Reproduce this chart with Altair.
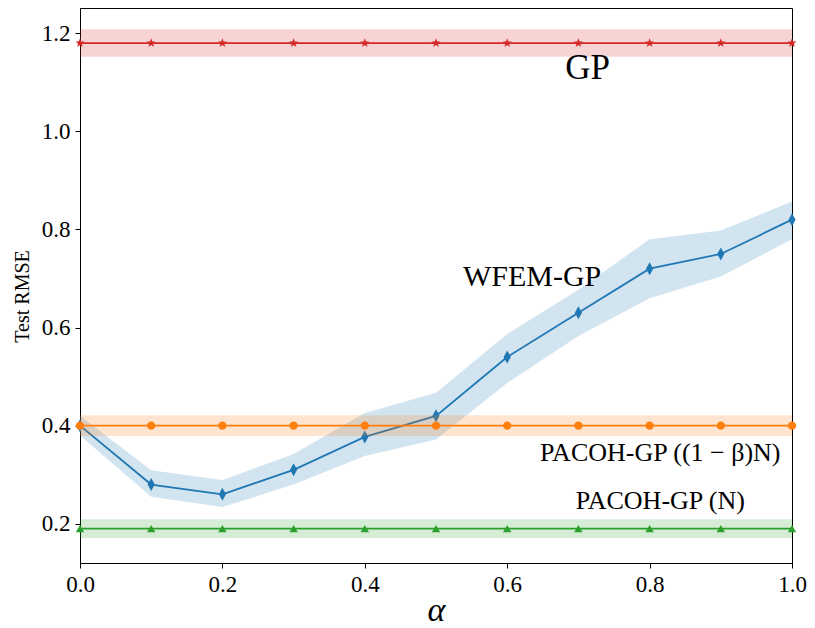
import math
import altair as alt
import pandas as pd

# ---- data ----
alpha_vals = [0.0, 0.1, 0.2, 0.3, 0.4, 0.5, 0.6, 0.7, 0.8, 0.9, 1.0]

wfem_mean = [0.40, 0.28, 0.26, 0.31, 0.377, 0.42, 0.54, 0.63, 0.72, 0.75, 0.82]
wfem_lower = [0.38, 0.255, 0.234, 0.28, 0.338, 0.372, 0.487, 0.583, 0.66, 0.704, 0.78]
wfem_upper = [0.42, 0.309, 0.289, 0.342, 0.426, 0.467, 0.587, 0.677, 0.78, 0.798, 0.857]

pacoh_beta_mean = [0.40] * 11
pacoh_beta_lower = [0.379] * 11
pacoh_beta_upper = [0.421] * 11

pacoh_n_mean = [0.19] * 11
pacoh_n_lower = [0.171] * 11
pacoh_n_upper = [0.209] * 11

gp_mean = [1.18] * 11
gp_lower = [1.152] * 11
gp_upper = [1.208] * 11

label_texts = ["GP", "WFEM-GP", "PACOH-GP ((1 − β)N)", "PACOH-GP (N)"]
label_x = [0.713, 0.635, 0.815, 0.815]
label_y = [1.129, 0.703, 0.345, 0.247]
label_sizes = [35, 30, 26, 26]

x_ticks = [0.0, 0.2, 0.4, 0.6, 0.8, 1.0]
y_ticks = [0.2, 0.4, 0.6, 0.8, 1.0, 1.2]

FONT = "Liberation Serif"

# marker shapes
pts = []
for k in range(10):
    r = 1.0 if k % 2 == 0 else 0.42
    a = -math.pi / 2 + k * math.pi / 5
    pts.append(f"{r*math.cos(a):.3f},{r*math.sin(a):.3f}")
STAR = "M" + "L".join(pts) + "Z"
THIN_DIAMOND = "M0,-1L0.55,0L0,1L-0.55,0Z"

x_scale = alt.Scale(domain=[0, 1], nice=False, zero=False)
y_scale = alt.Scale(domain=[0.12, 1.2515], nice=False, zero=False)


def series(mean, lower, upper, color, shape, size):
    df = pd.DataFrame({"alpha": alpha_vals, "mean": mean, "lower": lower, "upper": upper})
    base = alt.Chart(df)
    band = base.mark_area(color=color, opacity=0.2).encode(
        x=alt.X("alpha:Q", scale=x_scale),
        y=alt.Y("lower:Q", scale=y_scale),
        y2="upper:Q",
    )
    line = base.mark_line(color=color, strokeWidth=1.8).encode(
        x=alt.X("alpha:Q", scale=x_scale),
        y=alt.Y("mean:Q", scale=y_scale),
    )
    pt = base.mark_point(color=color, filled=True, opacity=1, shape=shape, size=size).encode(
        x=alt.X("alpha:Q", scale=x_scale),
        y=alt.Y("mean:Q", scale=y_scale),
    )
    return [band, line, pt]


layers = []
layers += series(wfem_mean, wfem_lower, wfem_upper, "#1f77b4", THIN_DIAMOND, 170)
layers += series(pacoh_beta_mean, pacoh_beta_lower, pacoh_beta_upper, "#ff7f0e", "circle", 70)
layers += series(pacoh_n_mean, pacoh_n_lower, pacoh_n_upper, "#2ca02c", "triangle-up", 70)
layers += series(gp_mean, gp_lower, gp_upper, "#d62728", STAR, 90)

labels_df = pd.DataFrame({"t": label_texts, "x": label_x, "y": label_y, "s": label_sizes})
for i in range(len(label_texts)):
    layers.append(
        alt.Chart(labels_df.iloc[[i]]).mark_text(
            font=FONT, fontSize=label_sizes[i], color="black", align="center", baseline="middle"
        ).encode(
            x=alt.X("x:Q", scale=x_scale),
            y=alt.Y("y:Q", scale=y_scale),
            text="t:N",
        )
    )

axis_common = dict(
    grid=False,
    labelFont=FONT,
    labelFontSize=23,
    labelColor="black",
    labelFlush=False,
    labelOverlap=False,
    tickColor="black",
    tickSize=5,
    domainColor="black",
    titleColor="black",
    titleFont=FONT,
    titleFontWeight="normal",
    format=".1f",
)

PLOT_W = 712

# axes carrier layer
axes_df = pd.DataFrame({"alpha": alpha_vals, "mean": wfem_mean})
axes_layer = alt.Chart(axes_df).mark_point(opacity=0).encode(
    x=alt.X(
        "alpha:Q",
        scale=x_scale,
        axis=alt.Axis(
            values=x_ticks,
            title="α",
            titleFontSize=34,
            titleFontStyle="italic",
            titleX=PLOT_W / 2,
            titleY=47,
            titleBaseline="middle",
            labelPadding=5,
            **axis_common,
        ),
    ),
    y=alt.Y(
        "mean:Q",
        scale=y_scale,
        axis=alt.Axis(
            values=y_ticks,
            title="Test RMSE",
            titleFontSize=20,
            titleX=-58,
            titleY=288,
            titleBaseline="middle",
            titleAlign="center",
            titleAngle=270,
            labelPadding=5,
            **axis_common,
        ),
    ),
)

chart = alt.layer(axes_layer, *layers).properties(
    width=PLOT_W,
    height=555,
    autosize=alt.AutoSizeParams(type="none"),
    padding={"left": 72, "top": 0, "right": 15, "bottom": 65},
).configure_view(
    stroke="black", strokeWidth=1
)

chart.save("out.html", embed_options={"renderer": "svg", "actions": False})
